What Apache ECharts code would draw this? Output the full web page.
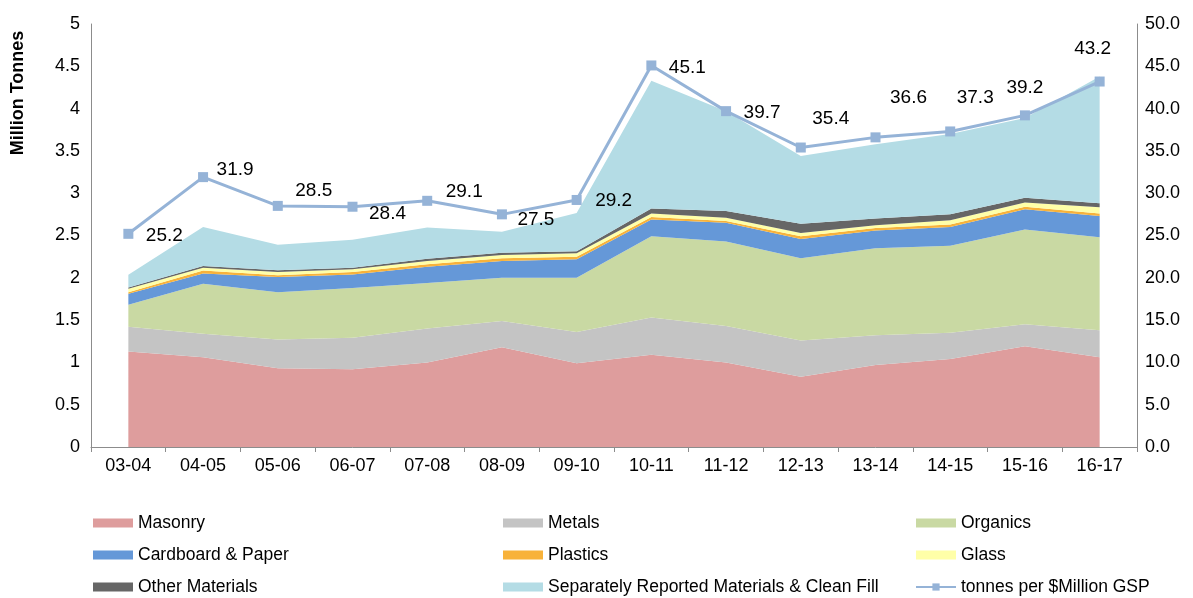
<!DOCTYPE html>
<html>
<head>
<meta charset="utf-8">
<script src="https://cdn.jsdelivr.net/npm/echarts@6/dist/echarts.min.js"></script>
<style>
  html, body { margin: 0; padding: 0; background: #fff; }
  #chart { width: 1193px; height: 598px; }
</style>
</head>
<body>
<div id="chart"></div>
<script>
// categories (financial years)
const categories = ['03-04', '04-05', '05-06', '06-07', '07-08', '08-09', '09-10',
  '10-11', '11-12', '12-13', '13-14', '14-15', '15-16', '16-17']

// million tonnes
const masonry = [1.13, 1.06, 0.93, 0.92, 1.00, 1.18, 0.99, 1.09, 1.00, 0.83, 0.97, 1.04, 1.19, 1.06]
const metals = [0.29, 0.28, 0.34, 0.37, 0.40, 0.31, 0.37, 0.44, 0.43, 0.43, 0.35, 0.31, 0.26, 0.32]
const organics = [0.26, 0.59, 0.56, 0.59, 0.54, 0.51, 0.64, 0.96, 1.00, 0.97, 1.03, 1.03, 1.12, 1.10]
const cardboard = [0.13, 0.12, 0.18, 0.16, 0.19, 0.20, 0.22, 0.20, 0.22, 0.23, 0.21, 0.22, 0.24, 0.25]
const plastics = [0.02, 0.035, 0.02, 0.03, 0.03, 0.03, 0.03, 0.03, 0.02, 0.03, 0.03, 0.03, 0.03, 0.03]
const glass = [0.04, 0.035, 0.04, 0.03, 0.04, 0.04, 0.04, 0.04, 0.04, 0.04, 0.03, 0.05, 0.05, 0.075]
const other = [0.015, 0.02, 0.02, 0.02, 0.025, 0.025, 0.025, 0.06, 0.08, 0.11, 0.08, 0.07, 0.055, 0.045]
const separate = [0.15, 0.46, 0.30, 0.33, 0.37, 0.25, 0.45, 1.51, 1.18, 0.80, 0.88, 0.95, 0.945, 1.50]

// tonnes per $Million GSP (right axis)
const intensity = [25.2, 31.9, 28.5, 28.4, 29.1, 27.5, 29.2, 45.1, 39.7, 35.4, 36.6, 37.3, 39.2, 43.2]

// where each data label sits relative to its marker (px)
const labelOffsets = [[36, 2], [32, -7], [36, -15], [35, 7], [37, -9], [34, 5], [37, 1],
  [36, 2], [36, 2], [30, -29], [33, -40], [25, -34], [0, -28], [-7, -33]]

const FONT = 'Liberation Sans, Arial, sans-serif'
const lineName = 'tonnes per $Million GSP'

function area (name, data, color) {
  return {
    name: name,
    type: 'line',
    stack: 'total',
    data: data,
    symbol: 'none',
    lineStyle: { width: 0 },
    itemStyle: { color: color },
    areaStyle: { color: color, opacity: 1 },
    emphasis: { disabled: true }
  }
}

let chart = echarts.init(document.getElementById('chart'))

const legendBase = {
  orient: 'vertical',
  top: 509,
  height: 120,
  itemWidth: 40,
  itemHeight: 9,
  itemGap: 14,
  textStyle: { fontFamily: FONT, fontSize: 17.5, color: '#000' }
}

chart.setOption({
  animation: false,
  textStyle: { fontFamily: FONT },
  grid: { left: 91, right: 56, top: 24, bottom: 151 },
  legend: [
    Object.assign({}, legendBase, {
      left: 88,
      data: [{ name: 'Masonry', icon: 'rect' }, { name: 'Cardboard & Paper', icon: 'rect' }, { name: 'Other Materials', icon: 'rect' }]
    }),
    Object.assign({}, legendBase, {
      left: 498,
      data: [{ name: 'Metals', icon: 'rect' }, { name: 'Plastics', icon: 'rect' }, { name: 'Separately Reported Materials & Clean Fill', icon: 'rect' }]
    }),
    Object.assign({}, legendBase, {
      left: 910,
      data: [{ name: 'Organics', icon: 'rect' }, { name: 'Glass', icon: 'rect' }, { name: lineName }]
    })
  ],
  graphic: [{
    type: 'text',
    x: 18,
    y: 93,
    rotation: Math.PI / 2,
    style: {
      text: 'Million Tonnes',
      font: 'bold 18px ' + FONT,
      fill: '#000',
      align: 'center',
      verticalAlign: 'middle'
    }
  }],
  xAxis: {
    type: 'category',
    data: categories,
    boundaryGap: true,
    axisLine: { lineStyle: { color: '#8c8c8c', width: 1 } },
    axisTick: { show: true, length: 5, lineStyle: { color: '#8c8c8c' } },
    axisLabel: { fontSize: 18, color: '#000', margin: 10 }
  },
  yAxis: [
    {
      type: 'value',
      min: 0,
      max: 5,
      interval: 0.5,
      axisLine: { show: true, lineStyle: { color: '#8c8c8c' } },
      axisTick: { show: false },
      splitLine: { show: false },
      axisLabel: { fontSize: 18, color: '#000', margin: 11 }
    },
    {
      type: 'value',
      min: 0,
      max: 50,
      interval: 5,
      position: 'right',
      axisLine: { show: true, lineStyle: { color: '#8c8c8c' } },
      axisTick: { show: false },
      splitLine: { show: false },
      axisLabel: { fontSize: 18, color: '#000', margin: 8, formatter: v => v.toFixed(1) }
    }
  ],
  series: [
    area('Masonry', masonry, '#DE9D9D'),
    area('Metals', metals, '#C4C4C4'),
    area('Organics', organics, '#C9D9A3'),
    area('Cardboard & Paper', cardboard, '#6598D8'),
    area('Plastics', plastics, '#F8B23A'),
    area('Glass', glass, '#FFFFA8'),
    area('Other Materials', other, '#666666'),
    area('Separately Reported Materials & Clean Fill', separate, '#B4DCE5'),
    {
      name: lineName,
      type: 'line',
      yAxisIndex: 1,
      z: 5,
      symbol: 'rect',
      symbolSize: 10,
      lineStyle: { color: '#95B3D7', width: 3 },
      itemStyle: { color: '#95B3D7' },
      data: intensity.map((v, i) => ({
        value: v,
        label: { offset: labelOffsets[i] }
      })),
      label: {
        show: true,
        position: 'inside',
        fontSize: 19,
        color: '#000',
        formatter: p => p.value.toFixed(1)
      },
      emphasis: { disabled: true }
    }
  ]
})
</script>
</body>
</html>
